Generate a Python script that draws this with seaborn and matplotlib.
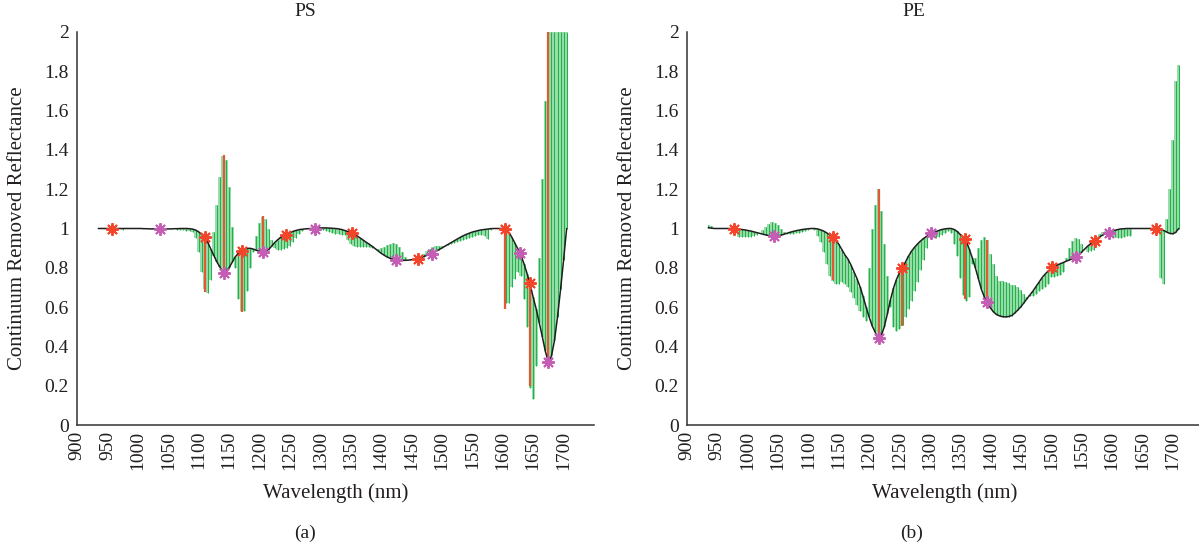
import numpy as np
import matplotlib
matplotlib.use("Agg")
import matplotlib.pyplot as plt
import seaborn as sns
from matplotlib.ticker import FormatStrFormatter

# ---- PS panel: continuum-removed curve and green tips, 5 nm sampling ----
ps_wl = np.arange(935, 1706, 5)
ps_curve = [
    1.0, 1.0, 1.0, 1.0, 1.0, 1.0, 1.0, 1.0, 1.0, 1.0,
    1.0, 1.0, 1.0, 1.0, 1.0, 0.999, 0.999, 0.998, 0.998, 0.997,
    0.997, 0.997, 0.997, 0.998, 0.998, 0.999, 0.999, 1.0, 1.0, 1.0,
    0.999, 0.997, 0.992, 0.983, 0.97, 0.955, 0.93, 0.895, 0.862, 0.83,
    0.803, 0.777, 0.78, 0.80, 0.828, 0.855, 0.873, 0.886, 0.895, 0.899,
    0.899, 0.895, 0.889, 0.884, 0.882, 0.885, 0.893, 0.91, 0.928, 0.943,
    0.955, 0.963, 0.97, 0.978, 0.985, 0.99, 0.994, 0.996, 0.998, 0.999,
    1.0, 1.0, 1.002, 1.003, 1.003, 1.003, 1.002, 1.001, 1.0, 0.998,
    0.995, 0.99, 0.985, 0.979, 0.972, 0.963, 0.953, 0.942, 0.931, 0.921,
    0.91, 0.898, 0.886, 0.874, 0.864, 0.855, 0.848, 0.843, 0.84, 0.839,
    0.838, 0.838, 0.839, 0.841, 0.844, 0.847, 0.851, 0.857, 0.863, 0.869,
    0.876, 0.884, 0.892, 0.901, 0.91, 0.919, 0.928, 0.937, 0.946, 0.955,
    0.963, 0.97, 0.976, 0.982, 0.986, 0.99, 0.993, 0.995, 0.997, 0.999,
    1.0, 1.0, 1.0, 1.0, 1.0, 0.98, 0.955, 0.925, 0.895, 0.862,
    0.82, 0.77, 0.715, 0.65, 0.59, 0.52, 0.45, 0.375, 0.322, 0.35,
    0.43, 0.55, 0.69, 0.84, 1.0,
]
ps_tip = [
    1.0, 1.0, 1.0, 1.0, 1.0, 1.0, 1.0, 1.0, 0.99, 1.0,
    1.0, 1.0, 1.0, 1.0, 1.0, 0.999, 0.999, 0.998, 0.998, 0.997,
    0.997, 0.997, 0.997, 0.998, 0.998, 0.996, 0.994, 0.992, 0.99, 0.988,
    0.985, 0.98, 0.95, 0.88, 0.78, 0.69, 0.67, 0.74, 0.98, 1.12,
    1.26, 1.37, 1.35, 1.21, 1.01, 0.80, 0.64, 0.58, 0.58, 0.68,
    0.80, 0.88, 0.96, 1.03, 1.06, 1.05, 1.0, 0.94, 0.90, 0.89,
    0.89, 0.895, 0.90, 0.91, 0.93, 0.95, 0.97, 0.985, 0.995, 0.999,
    1.0, 1.0, 1.002, 1.003, 0.99, 0.985, 0.98, 0.975, 0.972, 0.97,
    0.968, 0.965, 0.94, 0.92, 0.91, 0.905, 0.905, 0.905, 0.905, 0.905,
    0.90, 0.895, 0.895, 0.90, 0.905, 0.915, 0.922, 0.925, 0.92, 0.905,
    0.88, 0.855, 0.84, 0.838, 0.84, 0.843, 0.855, 0.87, 0.885, 0.895,
    0.905, 0.91, 0.91, 0.91, 0.912, 0.915, 0.92, 0.925, 0.93, 0.935,
    0.94, 0.945, 0.95, 0.955, 0.96, 0.965, 0.965, 0.96, 0.945, 0.99,
    1.0, 1.0, 1.0, 1.0, 0.62, 0.62, 0.70, 0.745, 0.78, 0.76,
    0.64, 0.50, 0.19, 0.13, 0.30, 0.85, 1.25, 1.65, 2.0, 2.0,
    2.0, 2.0, 2.0, 2.0, 2.0,
]
ps_bar_x = [1110, 1141, 1171, 1205, 1603, 1644, 1675]
ps_bar_from = [0.958, 0.775, 0.887, 0.882, 1.0, 0.721, 0.322]
ps_bar_to = [0.675, 1.374, 0.577, 1.063, 0.589, 0.196, 2.0]
ps_red_x = [958, 1110, 1171, 1243, 1352, 1460, 1603, 1644]
ps_red_y = [1.0, 0.958, 0.887, 0.967, 0.979, 0.847, 1.0, 0.721]
ps_mag_x = [1037, 1141, 1205, 1291, 1425, 1484, 1628, 1675]
ps_mag_y = [0.997, 0.775, 0.882, 1.0, 0.840, 0.870, 0.877, 0.322]

# ---- PE panel ----
pe_wl = np.arange(935, 1711, 5)
pe_curve = [
    1.004, 1.002, 1.0, 1.0, 1.0, 1.0, 1.0, 1.0, 1.0, 0.999,
    0.997, 0.995, 0.993, 0.99, 0.987, 0.983, 0.979, 0.975, 0.971, 0.967,
    0.964, 0.961, 0.96, 0.962, 0.966, 0.971, 0.976, 0.981, 0.985, 0.989,
    0.992, 0.995, 0.997, 0.999, 1.0, 1.0, 0.998, 0.993, 0.987, 0.978,
    0.968, 0.957, 0.94, 0.92, 0.893, 0.866, 0.845, 0.815, 0.78, 0.745,
    0.704, 0.655, 0.60, 0.55, 0.505, 0.472, 0.442, 0.455, 0.50, 0.565,
    0.635, 0.695, 0.74, 0.775, 0.80, 0.83, 0.86, 0.885, 0.905, 0.922,
    0.937, 0.95, 0.96, 0.97, 0.976, 0.984, 0.99, 0.995, 0.998, 1.0,
    1.0, 0.995, 0.985, 0.97, 0.955, 0.935, 0.895, 0.85, 0.80, 0.745,
    0.69, 0.65, 0.625, 0.595, 0.575, 0.562, 0.555, 0.551, 0.55, 0.552,
    0.557, 0.57, 0.585, 0.602, 0.622, 0.643, 0.662, 0.682, 0.705, 0.727,
    0.75, 0.768, 0.784, 0.797, 0.806, 0.814, 0.821, 0.827, 0.834, 0.84,
    0.847, 0.855, 0.866, 0.88, 0.895, 0.91, 0.923, 0.935, 0.947, 0.958,
    0.967, 0.974, 0.98, 0.986, 0.991, 0.995, 0.998, 0.999, 1.0, 1.0,
    1.0, 1.0, 1.0, 1.0, 1.0, 1.0, 1.0, 1.0, 1.0, 0.997,
    0.99, 0.982, 0.975, 0.973, 0.98, 1.0,
]
pe_tip = [
    1.02, 1.015, 1.0, 1.0, 0.995, 1.0, 1.0, 1.0, 1.0, 0.99,
    0.955, 0.955, 0.955, 0.955, 0.957, 0.96, 0.965, 0.975, 0.99, 1.01,
    1.025, 1.031, 1.03, 1.02, 1.0, 0.98, 0.97, 0.97, 0.972, 0.975,
    0.978, 0.98, 0.985, 0.99, 0.998, 0.99, 0.96, 0.93, 0.88, 0.82,
    0.76, 0.735, 0.72, 0.72, 0.73, 0.72, 0.70, 0.675, 0.645, 0.61,
    0.58, 0.55, 0.53, 0.80, 1.0, 1.12, 1.20, 1.09, 0.92, 0.76,
    0.60, 0.50, 0.48, 0.49, 0.51, 0.55, 0.59, 0.63, 0.68, 0.73,
    0.79, 0.84, 0.90, 0.95, 0.955, 0.95, 0.955, 0.965, 0.975, 0.985,
    0.975, 0.92, 0.86, 0.75, 0.66, 0.63, 0.65, 0.82, 0.85, 0.90,
    0.94, 0.955, 0.94, 0.87, 0.82, 0.76, 0.735, 0.735, 0.73, 0.725,
    0.715, 0.71, 0.70, 0.685, 0.665, 0.65, 0.655, 0.655, 0.665, 0.68,
    0.69, 0.70, 0.72, 0.755, 0.755, 0.76, 0.765, 0.78, 0.85, 0.90,
    0.935, 0.95, 0.945, 0.92, 0.895, 0.88, 0.885, 0.89, 0.95, 0.97,
    0.98, 0.985, 0.975, 0.96, 0.955, 0.95, 0.95, 0.955, 0.96, 0.96,
    1.0, 1.0, 1.0, 1.0, 1.0, 1.0, 1.0, 1.0, 1.0, 0.75,
    0.72, 1.05, 1.2, 1.45, 1.75, 1.83,
]
pe_bar_x = [1140, 1216, 1254, 1358, 1394]
pe_bar_from = [0.958, 0.441, 0.797, 0.947, 0.628]
pe_bar_to = [0.738, 1.199, 0.504, 0.64, 0.941]
pe_red_x = [978, 1140, 1254, 1358, 1502, 1572, 1673]
pe_red_y = [1.0, 0.958, 0.797, 0.947, 0.803, 0.938, 1.0]
pe_mag_x = [1044, 1216, 1302, 1394, 1540, 1595]
pe_mag_y = [0.962, 0.441, 0.975, 0.628, 0.853, 0.979]

x_ticks = list(range(900, 1701, 50))
y_ticks = [0, 0.2, 0.4, 0.6, 0.8, 1.0, 1.2, 1.4, 1.6, 1.8, 2.0]

sns.set_style("white")
plt.rcParams["font.family"] = ["Liberation Serif", "DejaVu Serif"]
TXT = "#231f20"
GREEN = "#22b24c"
LIGHT = "#9adcab"
RED_LINE = "#dd5a32"
RED_STAR = "#f2452a"
MAG_STAR = "#c45db3"


def draw_panel(ax, wl, curve, tip, bx, b0, b1, rx, ry, mx, my):
    ax.fill_between(wl, curve, tip, step="mid", color=LIGHT, lw=0, zorder=1)
    ax.vlines(wl, curve, tip, color=GREEN, lw=0.75, zorder=2)
    ax.vlines(bx, b0, b1, color=RED_LINE, lw=1.6, zorder=3)
    sns.lineplot(x=wl, y=curve, ax=ax, color="#1e1e1e", lw=1.1,
                 sort=False, estimator=None, zorder=4)
    ax.plot(rx, ry, ls="none", marker=(8, 2, 0), ms=9, mew=1.4,
            color=RED_STAR, zorder=5)
    ax.plot(mx, my, ls="none", marker=(8, 2, 0), ms=9, mew=1.4,
            color=MAG_STAR, zorder=5)

    ax.set_xlim(900, 1750)
    ax.set_ylim(0, 2)
    ax.set_xticks(x_ticks)
    ax.set_yticks(y_ticks)
    ax.yaxis.set_major_formatter(FormatStrFormatter("%g"))
    ax.tick_params(direction="in", length=4, width=1, color="#333333",
                   labelsize=14, labelcolor=TXT)
    ax.tick_params(axis="x", labelrotation=90, pad=4)
    ax.tick_params(axis="y", pad=6)
    for s in ["top", "right"]:
        ax.spines[s].set_visible(False)
    for s in ["left", "bottom"]:
        ax.spines[s].set_color("#333333")
        ax.spines[s].set_linewidth(1.1)
    ax.set_xlabel("Wavelength (nm)", fontsize=15, color=TXT)
    ax.set_ylabel("Continuum Removed Reflectance", fontsize=15, color=TXT)
    ax.xaxis.set_label_coords(0.5, -0.148)
    ax.yaxis.set_label_coords(-0.097, 0.5)


fig = plt.figure(figsize=(11.99, 5.44), dpi=100)
ax1 = fig.add_axes([77 / 1199, 119 / 544, 517 / 1199, 393 / 544])
ax2 = fig.add_axes([687 / 1199, 119 / 544, 516 / 1199, 393 / 544])

draw_panel(ax1, ps_wl, ps_curve, ps_tip, ps_bar_x, ps_bar_from, ps_bar_to,
           ps_red_x, ps_red_y, ps_mag_x, ps_mag_y)
draw_panel(ax2, pe_wl, pe_curve, pe_tip, pe_bar_x, pe_bar_from, pe_bar_to,
           pe_red_x, pe_red_y, pe_mag_x, pe_mag_y)

fig.text(305 / 1199, 1 - 12 / 544, "PS", ha="center", va="center",
         fontsize=14, color=TXT)
fig.text(914 / 1199, 1 - 12 / 544, "PE", ha="center", va="center",
         fontsize=14, color=TXT)
fig.text(305 / 1199, 1 - 533 / 544, "(a)", ha="center", va="center",
         fontsize=14, color=TXT)
fig.text(912 / 1199, 1 - 533 / 544, "(b)", ha="center", va="center",
         fontsize=14, color=TXT)

fig.savefig("out.png", dpi=100)
